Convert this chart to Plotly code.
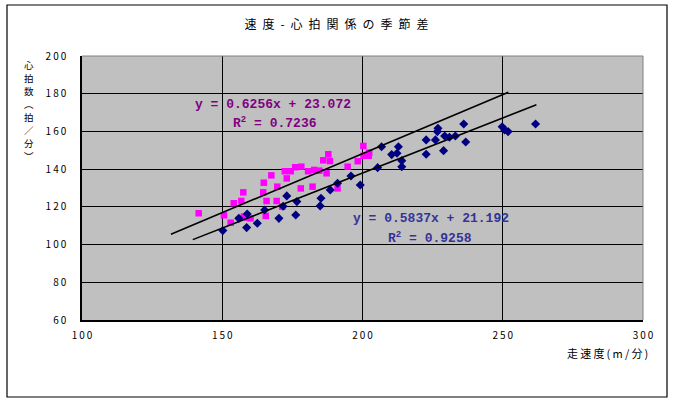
import plotly.graph_objects as go

# 速度-心拍 data
pink_speed = [141.6, 150.6, 153.0, 154.1, 156.8, 157.5, 157.7, 158.9, 160.1, 164.6,
              164.8, 165.5, 165.8, 167.5, 169.6, 169.4, 171.4, 172.3, 173.0, 174.4,
              176.0, 178.0, 178.2, 180.6, 182.2, 182.8, 184.6, 186.0, 187.2, 187.8,
              188.4, 191.1, 194.7, 198.3, 200.3, 200.4, 202.2, 202.4]
pink_hr = [116.6, 115.5, 111.6, 121.9, 123.1, 127.7, 114.8, 114.3, 113.9, 127.7,
           132.8, 115.2, 123.1, 136.7, 130.7, 123.1, 120.1, 138.9, 135.1, 138.9,
           141.0, 129.8, 141.3, 138.9, 130.7, 139.6, 139.2, 144.7, 137.8, 147.9,
           144.3, 129.8, 141.3, 144.2, 152.3, 147.1, 147.1, 148.7]

navy_speed = [150.2, 155.9, 158.7, 158.9, 162.5, 165.1, 170.2, 171.7, 173.0, 176.2,
              176.6, 184.9, 185.2, 188.5, 191.1, 195.9, 199.2, 205.4, 206.8, 210.4,
              212.3, 212.8, 214.0, 214.0, 222.7, 222.7, 226.0, 226.7, 226.9, 228.9,
              229.3, 231.0, 233.1, 236.1, 236.8, 249.8, 250.7, 251.9, 261.7]
navy_hr = [107.4, 113.9, 109.0, 116.2, 111.3, 118.3, 113.9, 120.3, 125.8, 115.7,
           122.8, 120.5, 124.6, 129.0, 132.5, 136.4, 131.6, 140.8, 151.9, 147.7,
           148.4, 151.9, 144.5, 141.3, 155.5, 147.9, 155.5, 159.9, 161.7, 149.8,
           157.6, 156.9, 157.6, 163.9, 154.4, 162.5, 160.8, 159.9, 163.9]

# trendline coefficients shown on the chart, and the span each line covers
pink_fit = (0.6256, 23.072, 0.7236)
navy_fit = (0.5837, 21.192, 0.9258)
pink_span = [131.7, 252.0]
navy_span = [139.5, 262.0]

x_ticks = [100, 150, 200, 250, 300]
y_ticks = [60, 80, 100, 120, 140, 160, 180, 200]

font = 'Noto Sans CJK JP'


def spaced(s):
    return '\u2009'.join(s)


def px_x(p):
    return (p - 82) / 561


def px_y(p):
    return (320 - p) / 264


fig = go.Figure()
fig.add_trace(go.Scatter(x=pink_speed, y=pink_hr, mode='markers',
                         marker=dict(symbol='square', size=6.5, color='#FF00FF')))
fig.add_trace(go.Scatter(x=navy_speed, y=navy_hr, mode='markers',
                         marker=dict(symbol='diamond', size=7, color='#000080')))
for (a, b, _), span in [(pink_fit, pink_span), (navy_fit, navy_span)]:
    fig.add_trace(go.Scatter(x=span, y=[a * v + b for v in span], mode='lines',
                             line=dict(color='black', width=1.6)))

eq_font_p = dict(family='Liberation Mono', size=13, color='#800080')
eq_font_n = dict(family='Liberation Mono', size=13, color='#333399')
fig.add_annotation(x=168.1, y=174.5, showarrow=False, font=eq_font_p,
                   text=f'<b>y = {pink_fit[0]}x + {pink_fit[1]}</b>')
fig.add_annotation(x=168.8, y=164.5, showarrow=False, font=eq_font_p,
                   text=f'<b>R<sup>2</sup> = {pink_fit[2]}</b>')
fig.add_annotation(x=224.4, y=113.6, showarrow=False, font=eq_font_n,
                   text=f'<b>y = {navy_fit[0]}x + {navy_fit[1]}</b>')
fig.add_annotation(x=224.1, y=104.0, showarrow=False, font=eq_font_n,
                   text=f'<b>R<sup>2</sup> = {navy_fit[2]}</b>')

# vertical y-axis title, one character per row
for i, ch in enumerate('心拍数︵拍／分︶'):
    fig.add_annotation(xref='paper', yref='paper', x=px_x(29), y=px_y(65 + i * 13),
                       xanchor='center', yanchor='middle', showarrow=False, text=ch,
                       borderpad=0, font=dict(family=font, size=9.5, color='black'))
# x-axis title
fig.add_annotation(xref='paper', yref='paper', x=px_x(650), y=px_y(353),
                   xanchor='right', yanchor='middle', showarrow=False,
                   text=spaced('走速度(m/分)'),
                   font=dict(family=font, size=11, color='black'))

# plot-area border on top/right in gray, outer chart frame
fig.add_shape(type='line', xref='paper', yref='paper', x0=0, x1=1, y0=1, y1=1,
              line=dict(color='#808080', width=1), layer='above')
fig.add_shape(type='line', xref='paper', yref='paper', x0=1, x1=1, y0=0, y1=1,
              line=dict(color='#808080', width=1), layer='above')
fig.add_shape(type='rect', xref='paper', yref='paper',
              x0=px_x(7), x1=px_x(667), y0=px_y(397), y1=px_y(5),
              line=dict(color='black', width=1.2))

fig.update_layout(
    width=673, height=403,
    margin=dict(l=82, r=30, t=56, b=83),
    paper_bgcolor='white', plot_bgcolor='#C0C0C0',
    showlegend=False,
    font=dict(family=font, size=10, color='black'),
    title=dict(text='\u2002'.join('速度-心拍関係の季節差'), x=0.5, xanchor='center',
               y=1 - 25 / 403, yanchor='middle', font=dict(family=font, size=12)),
    xaxis=dict(range=[100, 300], tickvals=x_ticks,
               ticktext=[spaced(str(v)) for v in x_ticks],
               showgrid=True, gridcolor='black', gridwidth=1,
               showline=True, linecolor='black', linewidth=1.5,
               ticks='', zeroline=False, ticklabelstandoff=5),
    yaxis=dict(range=[60, 200], tickvals=y_ticks,
               ticktext=[spaced(str(v)) for v in y_ticks],
               showgrid=True, gridcolor='black', gridwidth=1,
               showline=True, linecolor='black', linewidth=1.5,
               ticks='', zeroline=False, ticklabelstandoff=12),
)

fig.write_html('out.html', config={'displayModeBar': False},
               post_script="document.body.style.margin='0';")
